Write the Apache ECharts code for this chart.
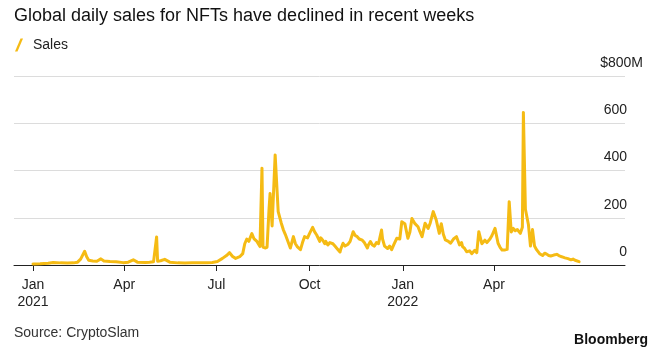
<!DOCTYPE html>
<html>
<head>
<meta charset="utf-8">
<script src="https://cdn.jsdelivr.net/npm/echarts@6/dist/echarts.min.js"></script>
<style>
html,body{margin:0;padding:0;background:#fff;}
#chart{width:662px;height:364px;}
</style>
</head>
<body>
<div id="chart"></div>
<script>
// Dates (samples) and daily NFT sales in $M
const dates = [
'2021-01-01','2021-01-08','2021-01-16','2021-01-21','2021-01-28','2021-02-04','2021-02-10','2021-02-14','2021-02-17','2021-02-21',
'2021-02-23','2021-02-25','2021-03-01','2021-03-05','2021-03-09','2021-03-12','2021-03-18','2021-03-24','2021-03-31','2021-04-05',
'2021-04-10','2021-04-14','2021-04-22','2021-04-26','2021-04-30','2021-05-03','2021-05-04','2021-05-07','2021-05-11','2021-05-16',
'2021-05-24','2021-05-31','2021-06-07','2021-06-15','2021-06-22','2021-06-27','2021-07-02','2021-07-07','2021-07-11','2021-07-14',
'2021-07-17','2021-07-20','2021-07-24','2021-07-27','2021-07-29','2021-07-31','2021-08-02','2021-08-05','2021-08-07','2021-08-10',
'2021-08-13','2021-08-15','2021-08-16','2021-08-18','2021-08-20','2021-08-22','2021-08-23','2021-08-25','2021-08-28','2021-08-31',
'2021-09-03','2021-09-05','2021-09-07','2021-09-09','2021-09-12','2021-09-15','2021-09-17','2021-09-19','2021-09-22','2021-09-24',
'2021-09-26','2021-09-29','2021-10-01','2021-10-04','2021-10-06','2021-10-08','2021-10-11','2021-10-12','2021-10-14','2021-10-16',
'2021-10-17','2021-10-19','2021-10-21','2021-10-24','2021-10-26','2021-10-28','2021-10-31','2021-11-01','2021-11-03','2021-11-05',
'2021-11-08','2021-11-10','2021-11-13','2021-11-15','2021-11-17','2021-11-19','2021-11-22','2021-11-24','2021-11-27','2021-11-28',
'2021-11-30','2021-12-02','2021-12-04','2021-12-06','2021-12-08','2021-12-11','2021-12-12','2021-12-14','2021-12-17','2021-12-19',
'2021-12-21','2021-12-23','2021-12-26','2021-12-29','2021-12-31','2022-01-03','2022-01-06','2022-01-08','2022-01-10','2022-01-13',
'2022-01-16','2022-01-18','2022-01-20','2022-01-23','2022-01-26','2022-01-28','2022-01-31','2022-02-03','2022-02-06','2022-02-08',
'2022-02-10','2022-02-12','2022-02-15','2022-02-17','2022-02-20','2022-02-23','2022-02-26','2022-02-28','2022-03-01','2022-03-03',
'2022-03-05','2022-03-08','2022-03-10','2022-03-11','2022-03-13','2022-03-15','2022-03-17','2022-03-20','2022-03-23','2022-03-25',
'2022-03-28','2022-03-30','2022-04-02','2022-04-05','2022-04-07','2022-04-09','2022-04-12','2022-04-14','2022-04-16','2022-04-18',
'2022-04-20','2022-04-22','2022-04-24','2022-04-27','2022-04-29','2022-04-30','2022-05-02','2022-05-05','2022-05-07','2022-05-09',
'2022-05-11','2022-05-13','2022-05-16','2022-05-19','2022-05-21','2022-05-23','2022-05-25','2022-05-27','2022-05-30','2022-06-02',
'2022-06-04','2022-06-06','2022-06-08','2022-06-10','2022-06-13','2022-06-16','2022-06-18','2022-06-20','2022-06-24'
];
const sales = [
4,5,7,11,9,8,9,12,25,58,
35,20,17,16,26,17,15,14,10,12,
22,12,11,12,14,119,16,18,24,12,
9,8,9,10,10,11,15,28,40,52,
36,28,35,48,90,110,100,133,112,100,
78,410,76,72,75,240,303,165,466,226,
178,150,130,107,72,120,90,77,65,95,
120,115,134,159,140,127,100,115,105,90,
100,85,95,90,80,70,55,70,92,80,
88,100,141,125,120,110,105,95,72,85,
99,85,80,95,90,148,110,80,70,80,
65,85,113,110,183,175,113,140,197,175,
162,140,120,177,155,177,226,190,134,175,
130,106,100,92,110,120,85,95,78,70,
56,60,48,50,62,52,141,90,105,95,
110,125,155,92,75,63,64,66,268,140,
155,145,150,134,160,646,236,170,80,150,
80,65,48,40,50,46,40,38,42,45,
40,36,33,30,27,22,25,20,14
];
// Axis ticks
const xTickDates = ['2021-01-01','2021-04-01','2021-07-01','2021-10-01','2022-01-01','2022-04-01'];
const xRange = ['2020-12-13', '2022-08-08'];
const yTicks = [0, 200, 400, 600, 800];
const monthNames = ['Jan','Feb','Mar','Apr','May','Jun','Jul','Aug','Sep','Oct','Nov','Dec'];

function ts(s) { const p = s.split('-').map(Number); return Date.UTC(p[0], p[1] - 1, p[2]); }

const FONT = '"Liberation Sans", Arial, Helvetica, sans-serif';
const chart = echarts.init(document.getElementById('chart'), null, {renderer: 'canvas'});
const tickTimes = xTickDates.map(ts);

chart.setOption({
  animation: false,
  backgroundColor: '#fff',
  title: [
    {text: 'Global daily sales for NFTs have declined in recent weeks', left: 9, top: 2,
     textStyle: {fontFamily: FONT, fontSize: 18, fontWeight: 'normal', color: '#111'}},
    {text: 'Source: CryptoSlam', left: 9, top: 321,
     textStyle: {fontFamily: FONT, fontSize: 14, fontWeight: 'normal', color: '#333'}},
    {text: 'Bloomberg', right: 9, top: 328,
     textStyle: {fontFamily: FONT, fontSize: 14, fontWeight: 'bold', color: '#111'}}
  ],
  legend: {
    left: 10, top: 33, padding: 5,
    icon: 'path://M0,13 L5.5,0 L8,0 L2.5,13 Z',
    itemWidth: 8, itemHeight: 13,
    textStyle: {fontFamily: FONT, fontSize: 14, color: '#222', padding: [0,0,0,5]},
    data: [{name: 'Sales', itemStyle: {color: '#f5bb14'}}]
  },
  grid: {left: 14, right: 37, top: 76, bottom: 99, containLabel: false},
  xAxis: {
    type: 'value',
    min: ts(xRange[0]) + 6 * 3600e3,
    max: ts(xRange[1]) + 7 * 3600e3,
    axisLine: {show: true, lineStyle: {color: '#222', width: 1}},
    axisTick: {show: true, customValues: tickTimes, length: 6, lineStyle: {color: '#222', width: 1}},
    splitLine: {show: false},
    axisLabel: {
      customValues: tickTimes,
      margin: 12,
      fontFamily: FONT, fontSize: 14, color: '#222', lineHeight: 17,
      formatter: function (v) {
        const d = new Date(v);
        const m = d.getUTCMonth();
        return m === 0 ? monthNames[m] + '\n' + d.getUTCFullYear() : monthNames[m];
      }
    }
  },
  yAxis: {
    type: 'value',
    position: 'right',
    min: yTicks[0], max: yTicks[yTicks.length - 1], interval: 200,
    axisLine: {show: false},
    axisTick: {show: false},
    splitLine: {show: true, lineStyle: {color: '#dcdcdc', width: 1}},
    axisLabel: {
      inside: true,
      margin: -2,
      align: 'right',
      verticalAlign: 'bottom',
      padding: [0, 0, 6, 0],
      fontFamily: FONT, fontSize: 14, color: '#222',
      formatter: function (v) { return v === 800 ? '{top|$800M}' : String(v); },
      rich: {top: {fontFamily: FONT, fontSize: 14, color: '#222', padding: [0, -16, 0, 0]}}
    }
  },
  series: [{
    name: 'Sales',
    type: 'line',
    data: dates.map((d, i) => [ts(d), sales[i]]),
    showSymbol: false,
    symbol: 'none',
    lineStyle: {color: '#f5bb14', width: 3, join: 'round', cap: 'round'},
    itemStyle: {color: '#f5bb14'},
    z: 3
  }]
});
</script>
</body>
</html>
